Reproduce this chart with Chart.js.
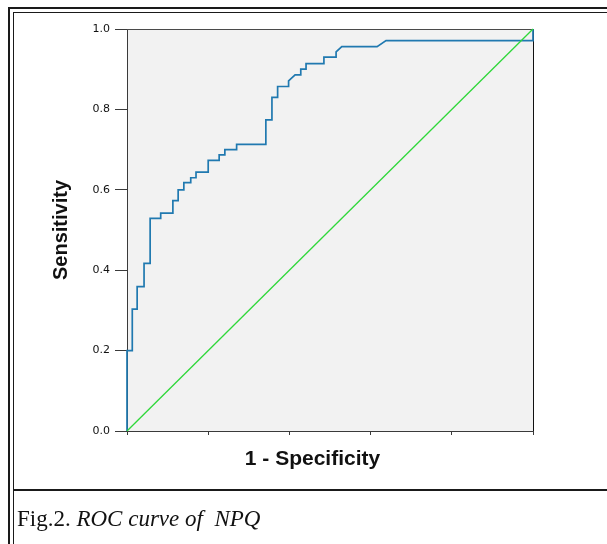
<!DOCTYPE html>
<html>
<head>
<meta charset="utf-8">
<script src="https://cdn.jsdelivr.net/npm/chart.js@4.4.1/dist/chart.umd.min.js"></script>
<style>
  html, body { margin: 0; padding: 0; background: #fff; }
  #wrap { position: relative; width: 607px; height: 544px; overflow: hidden; }
  #roc  { position: absolute; left: 0; top: 0; }
  .rule { position: absolute; background: #1a1a1a; }
  #caption {
    position: absolute; left: 17px; top: 507px;
    font: 23px/23px "Liberation Serif", "Times New Roman", serif;
    color: #111; white-space: pre;
  }
  #caption i { font-style: italic; }
</style>
</head>
<body>
<div id="wrap">
  <canvas id="roc" width="607" height="544"></canvas>
  <!-- figure frame: thick outer rule, thin inner rule, caption separator -->
  <div class="rule" style="left:8px;top:7px;width:2px;height:537px"></div>
  <div class="rule" style="left:8px;top:7px;width:599px;height:2px"></div>
  <div class="rule" style="left:13px;top:12px;width:1px;height:532px"></div>
  <div class="rule" style="left:13px;top:12px;width:594px;height:1px"></div>
  <div class="rule" style="left:13px;top:489px;width:594px;height:2px"></div>
  <div id="caption">Fig.2. <i>ROC curve of  NPQ</i></div>
</div>
<script>
// ROC curve for NPQ: step coordinates (1 - specificity, sensitivity)
const fpr = [0, 0, 0.013, 0.013, 0.025, 0.025, 0.042, 0.042, 0.057, 0.057,
             0.083, 0.083, 0.113, 0.113, 0.126, 0.126, 0.140, 0.140, 0.157, 0.157,
             0.170, 0.170, 0.200, 0.200, 0.227, 0.227, 0.241, 0.241, 0.270, 0.270,
             0.342, 0.342, 0.357, 0.357, 0.371, 0.371, 0.398, 0.398, 0.414, 0.428,
             0.428, 0.441, 0.441, 0.485, 0.485, 0.515, 0.515, 0.529, 0.616, 0.638,
             1.0, 1.0];
const tpr = [0, 0.20, 0.20, 0.303, 0.303, 0.359, 0.359, 0.417, 0.417, 0.529,
             0.529, 0.542, 0.542, 0.573, 0.573, 0.600, 0.600, 0.618, 0.618, 0.630,
             0.630, 0.644, 0.644, 0.673, 0.673, 0.687, 0.687, 0.700, 0.700, 0.713,
             0.713, 0.774, 0.774, 0.830, 0.830, 0.857, 0.857, 0.871, 0.886, 0.886,
             0.900, 0.900, 0.914, 0.914, 0.930, 0.930, 0.943, 0.956, 0.956, 0.971,
             0.971, 1.0];

// chance reference line
const refX = [0, 1];
const refY = [0, 1];

const yTicks = [0, 0.2, 0.4, 0.6, 0.8, 1.0];

const toPoints = (xs, ys) => xs.map((x, i) => ({ x, y: ys[i] }));

// light grey plot panel with a dark frame, drawn under the curves
const panel = {
  id: "panel",
  beforeDraw(chart) {
    const { ctx, chartArea: a } = chart;
    ctx.save();
    ctx.fillStyle = "#f2f2f2";
    ctx.fillRect(a.left, a.top, a.right - a.left, a.bottom - a.top);
    ctx.restore();
  },
  beforeDatasetsDraw(chart) {
    const { ctx, chartArea: a } = chart;
    ctx.save();
    ctx.strokeStyle = "#4a4a4a";
    ctx.lineWidth = 1;
    ctx.beginPath();
    ctx.moveTo(a.left, a.top + 0.5);
    ctx.lineTo(a.right + 0.5, a.top + 0.5);
    ctx.stroke();
    ctx.strokeStyle = "#111";
    ctx.beginPath();
    ctx.moveTo(a.right + 0.5, a.top);
    ctx.lineTo(a.right + 0.5, a.bottom);
    ctx.stroke();
    ctx.restore();
  }
};

const axisColor = "#3a3a3a";
const titleFont = "'Liberation Sans', Arial, sans-serif";

new Chart(document.getElementById("roc"), {
  type: "scatter",
  data: {
    datasets: [
      {
        label: "Reference Line",
        data: toPoints(refX, refY),
        showLine: true,
        borderColor: "#2fd83a",
        borderWidth: 1.3,
        pointRadius: 0,
        clip: false
      },
      {
        label: "NPQ",
        data: toPoints(fpr, tpr),
        showLine: true,
        borderColor: "#2079b0",
        borderWidth: 1.7,
        pointRadius: 0,
        tension: 0,
        clip: false
      }
    ]
  },
  options: {
    responsive: false,
    animation: false,
    devicePixelRatio: 1,
    layout: { padding: { left: 49, top: 29, right: 74, bottom: 72 } },
    plugins: { legend: { display: false }, tooltip: { enabled: false } },
    scales: {
      x: {
        type: "linear",
        min: 0, max: 1,
        afterFit: s => { s.height = 41; },
        ticks: { stepSize: 0.2, display: false },
        grid: { drawOnChartArea: false, drawTicks: true, tickLength: 4, color: axisColor },
        border: { color: axisColor, width: 1 },
        title: {
          display: true,
          // trailing spaces pull the centred title a little left of the axis midpoint
          text: "1 - Specificity\u00a0\u00a0\u00a0\u00a0\u00a0\u00a0",
          color: "#111",
          font: { family: titleFont, size: 21, weight: "bold" },
          padding: 0
        }
      },
      y: {
        type: "linear",
        min: 0, max: 1,
        afterFit: s => { s.width = 78; },
        afterBuildTicks: s => { s.ticks = yTicks.map(v => ({ value: v })); },
        ticks: {
          color: "#111",
          padding: 5,
          font: { family: "'DejaVu Sans', Tahoma, sans-serif", size: 11 },
          callback: v => v.toFixed(1)
        },
        grid: { drawOnChartArea: false, drawTicks: true, tickLength: 12, color: axisColor },
        border: { color: axisColor, width: 1 },
        title: {
          display: true,
          text: "Sensitivity",
          color: "#111",
          font: { family: titleFont, size: 20, weight: "bold" },
          padding: 0
        }
      }
    }
  },
  plugins: [panel]
});
</script>
</body>
</html>
